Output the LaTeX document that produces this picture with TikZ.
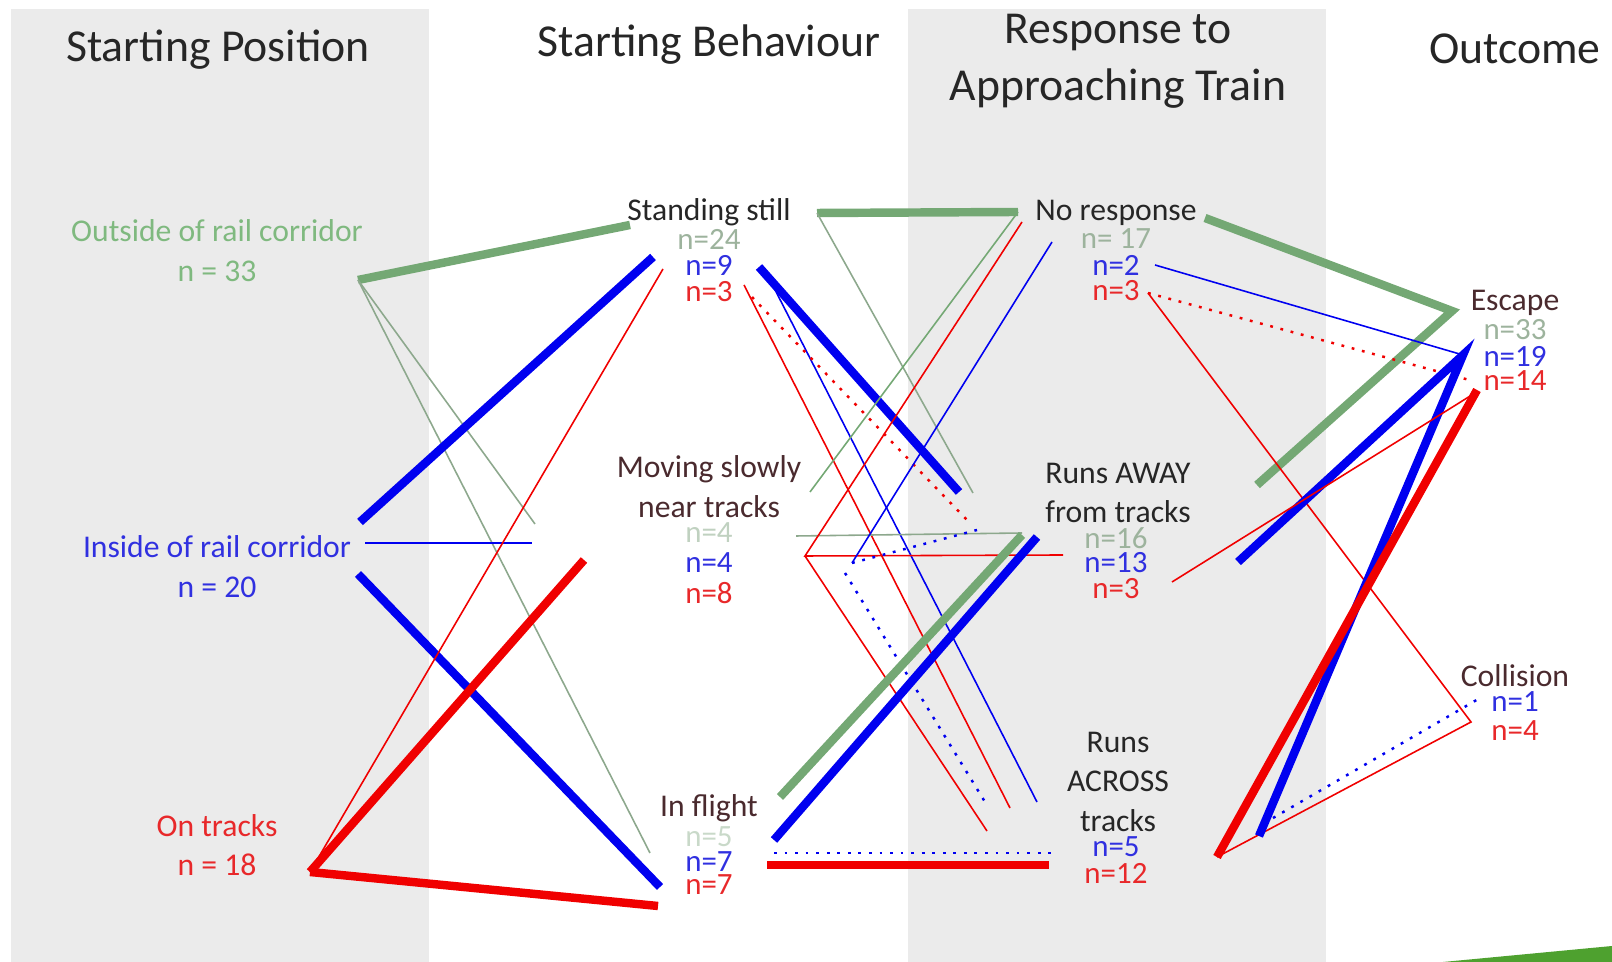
\documentclass[tikz,border=0pt]{standalone}
\usepackage{fontspec}
\setmainfont{Carlito}
\definecolor{bandgray}{HTML}{EBEBEB}
\definecolor{inkdark}{HTML}{262626}
\definecolor{inkmaroon}{HTML}{4A2A2E}
\definecolor{txtgreen}{HTML}{7FB97F}
\definecolor{txtgreyg}{HTML}{9DB39D}
\definecolor{txtpale}{HTML}{C9D9C9}
\definecolor{txtblue}{HTML}{3030E0}
\definecolor{txtred}{HTML}{E8282A}
\definecolor{pathgreen}{HTML}{74A874}
\definecolor{pathgreyg}{HTML}{8DA88D}
\definecolor{pathblue}{HTML}{0000F0}
\definecolor{pathred}{HTML}{F00000}
\definecolor{wedgegreen}{HTML}{4EA12F}
\usetikzlibrary{positioning}
\begin{document}
\begin{tikzpicture}[x=0.01cm,y=-0.01cm,
  head/.style={font=\fontsize{13}{15}\selectfont,text=inkdark,inner sep=0pt},
  lbl/.style={font=\fontsize{9}{10}\selectfont,inner sep=0pt},
  nlbl/.style={font=\fontsize{8.8}{9}\selectfont,inner sep=0pt},
  thickline/.style={line width=2.4pt},
  thinline/.style={line width=0.45pt},
  dotline/.style={line width=0.7pt,dash pattern=on 0.8pt off 2.2pt}]
\useasboundingbox (0,0) rectangle (1612,962);

% Draw background bands
\foreach \xa/\xb in {11/429,908/1326}
  \fill[bandgray] (\xa,9) rectangle (\xb,962);
\fill[wedgegreen] (1443,962) -- (1612,946) -- (1612,962) -- cycle;

% Column headings
\node[head] (hpos) at (218,50) {Starting Position};
\node[head] (hbeh) at (709,45) {Starting Behaviour};
\node[head] (hres1) at (1118,33) {Response to};
\node[head] (hres2) at (1118,89) {Approaching Train};
\node[head] (hout) at (1515,49) {Outcome};

% End points of the paths
\coordinate (outE) at (358,280);
\coordinate (insA) at (360,522);
\coordinate (insB) at (365,543);
\coordinate (insC) at (358,574);
\coordinate (onE) at (310,872);

\coordinate (ssG) at (630,225);
\coordinate (ssB) at (653,257);
\coordinate (ssR) at (663,269);
\coordinate (msG) at (535,524);
\coordinate (msB) at (532,543);
\coordinate (msR) at (584,560);
\coordinate (ifG) at (650,853);
\coordinate (ifB) at (660,887);
\coordinate (ifR) at (658,906);

\coordinate (ssGx) at (817,213);
\coordinate (ssBx) at (759,267);
\coordinate (ssBt) at (770,280);
\coordinate (ssRt) at (744,285);
\coordinate (ssRd) at (752,297);
\coordinate (msGh) at (796,536);
\coordinate (msGu) at (810,492);
\coordinate (msRx) at (805,556);
\coordinate (msBx) at (852,563);
\coordinate (msBd) at (845,573);
\coordinate (ifGx) at (780,797);
\coordinate (ifBx) at (774,840);
\coordinate (ifBd) at (774,853);
\coordinate (ifRx) at (767,865);

\coordinate (nrG) at (1018,212);
\coordinate (nrR) at (1022,222);
\coordinate (nrB) at (1052,242);
\coordinate (raG) at (973,493);
\coordinate (raB) at (959,492);
\coordinate (raRd) at (967,520);
\coordinate (raGh) at (1022,533);
\coordinate (raR) at (1063,555);
\coordinate (raBd) at (977,530);
\coordinate (raGt) at (1022,535);
\coordinate (raBt) at (1037,537);
\coordinate (acB) at (1037,802);
\coordinate (acR) at (1010,808);
\coordinate (acRm) at (987,831);
\coordinate (acBd) at (985,802);
\coordinate (acBf) at (1053,853);
\coordinate (acRf) at (1049,865);

\coordinate (nrGx) at (1205,218);
\coordinate (nrBx) at (1155,265);
\coordinate (nrRx) at (1148,293);
\coordinate (raGx) at (1257,485);
\coordinate (raBx) at (1238,562);
\coordinate (raRx) at (1172,582);
\coordinate (acRx) at (1217,857);
\coordinate (acBx) at (1259,836);
\coordinate (acBdx) at (1273,818);

\coordinate (esG) at (1452,311);
\coordinate (esB) at (1463,355);
\coordinate (esRd) at (1473,381);
\coordinate (esR) at (1477,390);
\coordinate (esRt) at (1475,393);
\coordinate (coR) at (1471,722);
\coordinate (coB) at (1480,698);

% Starting position to starting behaviour
\draw[pathgreen,thickline] (outE) -- (ssG);
\draw[pathgreyg,thinline] (outE) -- (msG);
\draw[pathgreyg,thinline] (outE) -- (ifG);
\draw[pathblue,thickline] (insA) -- (ssB);
\draw[pathblue,thinline] (insB) -- (msB);
\draw[pathblue,thickline] (insC) -- (ifB);
\draw[pathred,thinline] (onE) -- (ssR);
\draw[pathred,thickline] (onE) -- (msR);
\draw[pathred,thickline] (onE) -- (ifR);

% Starting behaviour to response
\draw[pathgreen,thickline] (ssGx) -- (nrG);
\draw[pathgreyg,thinline] (ssGx) -- (raG);
\draw[pathblue,thickline] (ssBx) -- (raB);
\draw[pathblue,thinline] (ssBt) -- (acB);
\draw[pathred,thinline] (ssRt) -- (acR);
\draw[pathred,dotline] (ssRd) -- (raRd);
\draw[pathgreyg,thinline] (msGh) -- (raGh);
\draw[pathgreen,thinline] (msGu) -- (nrG);
\draw[pathred,thinline] (nrR) -- (msRx) -- (raR);
\draw[pathred,thinline] (msRx) -- (acRm);
\draw[pathblue,thinline] (msBx) -- (nrB);
\draw[pathblue,dotline] (msBx) -- (raBd);
\draw[pathblue,dotline] (msBd) -- (acBd);
\draw[pathgreen,thickline] (ifGx) -- (raGt);
\draw[pathblue,thickline] (ifBx) -- (raBt);
\draw[pathblue,dotline] (ifBd) -- (acBf);
\draw[pathred,thickline] (ifRx) -- (acRf);

% Response to outcome
\draw[pathgreen,thickline] (nrGx) -- (esG) -- (raGx);
\draw[pathblue,thinline] (nrBx) -- (esB);
\draw[pathred,dotline] (nrRx) -- (esRd);
\draw[pathred,thinline] (nrRx) -- (coR) -- (acRx);
\draw[pathblue,thickline] (raBx) -- (esB) -- (acBx);
\draw[pathred,thinline] (raRx) -- (esRt);
\draw[pathred,thickline] (acRx) -- (esR);
\draw[pathblue,dotline] (acBdx) -- (coB);

% Starting position labels
\node[lbl,text=txtgreen] (outside) at (217,231) {Outside of rail corridor};
\node[lbl,text=txtgreen] (outside-n) at (217,271) {n = 33};
\node[lbl,text=txtblue] (inside) at (217,547) {Inside of rail corridor};
\node[lbl,text=txtblue] (inside-n) at (217,587) {n = 20};
\node[lbl,text=txtred] (ontracks) at (217,826) {On tracks};
\node[lbl,text=txtred] (ontracks-n) at (217,865) {n = 18};

% Starting behaviour labels
\node[lbl,text=inkdark] (standing) at (709,212) {Standing still};
\node[nlbl,text=txtgreyg] (standing-g) at (709,239) {n=24};
\node[nlbl,text=txtblue] (standing-b) at (709,265) {n=9};
\node[nlbl,text=txtred] (standing-r) at (709,292) {n=3};
\node[lbl,text=inkmaroon] (moving) at (709,469) {Moving slowly};
\node[lbl,text=inkmaroon] (moving2) at (709,507) {near tracks};
\node[nlbl,text=txtpale!80!txtgreyg] (moving-g) at (709,533) {n=4};
\node[nlbl,text=txtblue] (moving-b) at (709,563) {n=4};
\node[nlbl,text=txtred] (moving-r) at (709,593) {n=8};
\node[lbl,text=inkmaroon] (flight) at (709,808) {In flight};
\node[nlbl,text=txtpale] (flight-g) at (709,837) {n=5};
\node[nlbl,text=txtblue] (flight-b) at (709,862) {n=7};
\node[nlbl,text=txtred] (flight-r) at (709,885) {n=7};

% Response labels
\node[lbl,text=inkdark] (noresp) at (1116,213) {No response};
\node[nlbl,text=txtgreyg] (noresp-g) at (1116,239) {n= 17};
\node[nlbl,text=txtblue] (noresp-b) at (1116,265) {n=2};
\node[nlbl,text=txtred] (noresp-r) at (1116,291) {n=3};
\node[lbl,text=inkdark] (away) at (1118,473) {Runs AWAY};
\node[lbl,text=inkdark] (away2) at (1118,512) {from tracks};
\node[nlbl,text=txtgreyg] (away-g) at (1116,538) {n=16};
\node[nlbl,text=txtblue] (away-b) at (1116,563) {n=13};
\node[nlbl,text=txtred] (away-r) at (1116,589) {n=3};
\node[lbl,text=inkdark] (across) at (1118,742) {Runs};
\node[lbl,text=inkdark] (across2) at (1118,781) {ACROSS};
\node[lbl,text=inkdark] (across3) at (1118,821) {tracks};
\node[nlbl,text=txtblue] (across-b) at (1116,847) {n=5};
\node[nlbl,text=txtred] (across-r) at (1116,873) {n=12};

% Outcome labels
\node[lbl,text=inkmaroon] (escape) at (1515,303) {Escape};
\node[nlbl,text=txtgreyg] (escape-g) at (1515,330) {n=33};
\node[nlbl,text=txtblue] (escape-b) at (1515,356) {n=19};
\node[nlbl,text=txtred] (escape-r) at (1515,381) {n=14};
\node[lbl,text=inkmaroon] (collision) at (1515,676) {Collision};
\node[nlbl,text=txtblue] (collision-b) at (1515,702) {n=1};
\node[nlbl,text=txtred] (collision-r) at (1515,731) {n=4};
\end{tikzpicture}
\end{document}
